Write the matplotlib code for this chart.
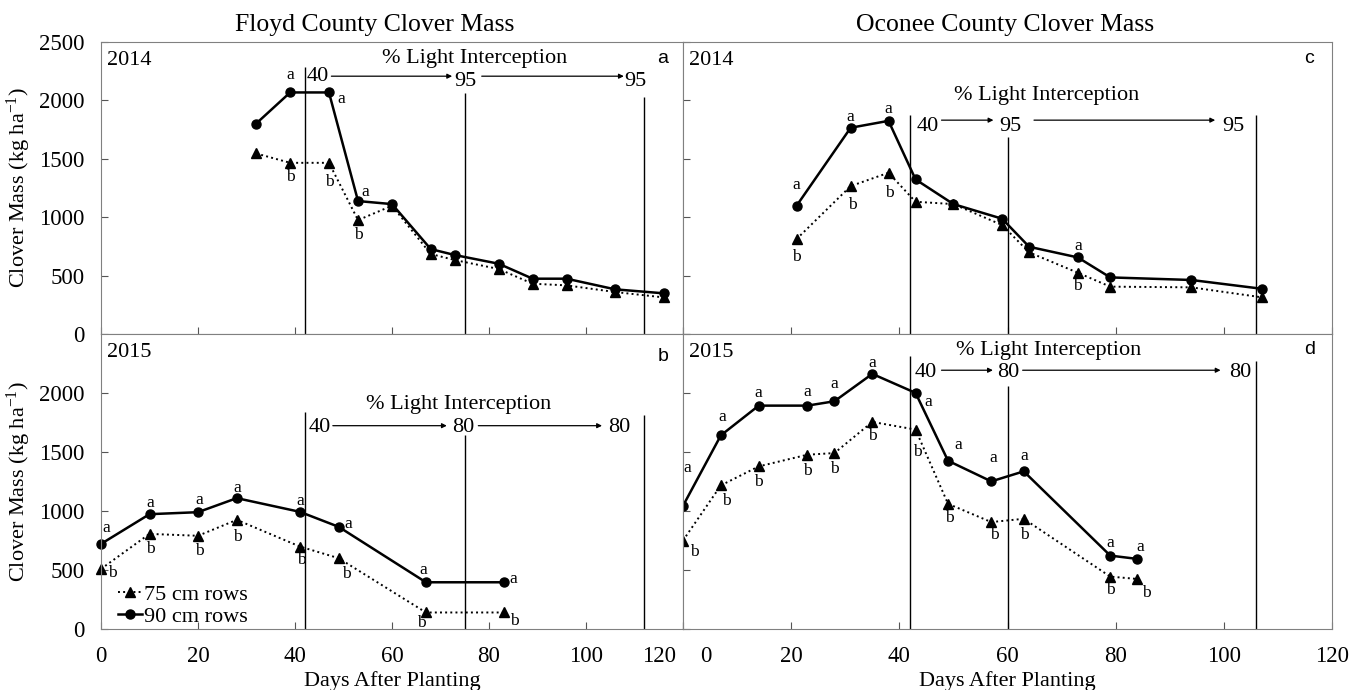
import matplotlib.pyplot as plt
from matplotlib.transforms import ScaledTranslation

# Clover mass (kg/ha) vs days after planting, 75 cm and 90 cm rows
floyd14_days = [32, 39, 47, 53, 60, 68, 73, 82, 89, 96, 106, 116]
floyd14_90 = [1800, 2066, 2066, 1137, 1111, 726, 675, 601, 473, 473, 382, 348]
floyd14_75 = [1544, 1464, 1464, 974, 1097, 684, 632, 556, 430, 416, 359, 313]
floyd14_sig90 = ['', 'a', 'a', 'a', '', '', '', '', '', '', '', '']
floyd14_sig75 = ['', 'b', 'b', 'b', '', '', '', '', '', '', '', '']

oconee14_days = [21, 31, 38, 43, 50, 59, 64, 73, 79, 94, 107]
oconee14_90 = [1097, 1764, 1823, 1322, 1111, 986, 746, 655, 484, 462, 387]
oconee14_75 = [812, 1265, 1379, 1131, 1111, 932, 698, 524, 405, 399, 314]
oconee14_sig90 = ['a', 'a', 'a', '', '', '', '', 'a', '', '', '']
oconee14_sig75 = ['b', 'b', 'b', '', '', '', '', 'b', '', '', '']

floyd15_days = [0, 10, 20, 28, 41, 49, 67, 83]
floyd15_90 = [721, 973, 990, 1109, 993, 866, 396, 396]
floyd15_75 = [509, 806, 790, 925, 699, 600, 140, 140]
floyd15_sig90 = ['a'] * 8
floyd15_sig75 = ['b'] * 8

oconee15_days = [0, 7, 14, 23, 28, 35, 43, 49, 57, 63, 79, 84]
oconee15_90 = [1044, 1641, 1893, 1893, 1930, 2162, 2001, 1426, 1251, 1336, 622, 594]
oconee15_75 = [750, 1217, 1378, 1477, 1491, 1755, 1690, 1061, 906, 934, 444, 424]
oconee15_sig90 = ['a'] * 12
oconee15_sig75 = ['b'] * 12

# light interception stages (day of line, % label)
floyd_li_days = [42, 75, 112]
oconee_li_days = [42, 60, 106]
li_2014 = ['40', '95', '95']
li_2015 = ['40', '80', '80']

labels_rows = ['75 cm rows', '90 cm rows']

plt.rcParams['font.family'] = 'Liberation Serif'
plt.rcParams['mathtext.fontset'] = 'custom'
plt.rcParams['mathtext.rm'] = 'Liberation Serif'
plt.rcParams['mathtext.default'] = 'regular'

W, H = 1366, 690
fig = plt.figure(figsize=(W / 100, H / 100), dpi=100)


def box(l, r, t, b):
    return [l / W, (H - b) / H, (r - l) / W, (b - t) / H]


ax_tl = fig.add_axes(box(101, 683, 41.7, 334))
ax_bl = fig.add_axes(box(101, 683, 334, 629))
ax_tr = fig.add_axes(box(683, 1332, 41.7, 334))
ax_br = fig.add_axes(box(683, 1332, 334, 629))


def sig_labels(ax, days, vals, sig, offs, default):
    for i, s in enumerate(sig):
        if not s:
            continue
        dx, dy = offs.get(i, default)
        ax.annotate(s, (days[i], vals[i]), xytext=(dx, dy), textcoords='offset pixels',
                    ha='center', va='center', fontsize=12.5, annotation_clip=False)


def panel(ax, days, m90, m75, sig90, sig75, off90, off75, li_days, li_txt, li, clip):
    l75, = ax.plot(days, m75, ':', color='black', lw=1.4, marker='^', ms=7, clip_on=clip)
    l90, = ax.plot(days, m90, '-', color='black', lw=1.8, marker='o', ms=6.5, clip_on=clip)
    sig_labels(ax, days, m90, sig90, off90, (0, 13))
    sig_labels(ax, days, m75, sig75, off75, (0, -15))

    ax.vlines(li_days, 0, li['tops'], color='black', lw=1)
    ax.text(li['title'][0], li['title'][1], '% Light Interception', ha='center', va='center', fontsize=16)
    for (x, y), t in zip(li['nums'], li_txt):
        ax.text(x, y, t, ha='center', va='center', fontsize=16)
    for x0, x1 in li['arrows']:
        ax.annotate('', xy=(x1, li['arrow_y']), xytext=(x0, li['arrow_y']),
                    arrowprops=dict(arrowstyle='-|>', lw=0.9, color='black',
                                    mutation_scale=7, shrinkA=0, shrinkB=0))

    ax.set_xlim(0, 120)
    ax.set_ylim(0, 2500)
    ax.set_xticks(range(0, 121, 20))
    ax.set_yticks(range(0, 2501, 500))
    ax.tick_params(direction='in', length=5, labelsize=16.5, pad=12, color='#555555')
    for sp in ax.spines.values():
        sp.set_color('#808080')
    return l75, l90


panel(ax_tl, floyd14_days, floyd14_90, floyd14_75, floyd14_sig90, floyd14_sig75,
      {1: (0, 17), 2: (12, -7), 3: (7, 9)},
      {1: (0, -14), 2: (0, -19), 3: (0, -15)},
      floyd_li_days, li_2014,
      dict(tops=[2282, 2060, 2028], title=(77, 2353),
           nums=[(44.6, 2205), (75.1, 2156), (110.2, 2156)],
           arrows=[(47.5, 72.4), (78.5, 107.8)], arrow_y=2205), False)

panel(ax_tr, oconee14_days, oconee14_90, oconee14_75, oconee14_sig90, oconee14_sig75,
      {0: (0, 21), 1: (0, 11), 2: (0, 12), 7: (0, 11)},
      {0: (0, -18), 1: (2, -19), 2: (1, -20), 7: (0, -13)},
      oconee_li_days, li_2014,
      dict(tops=[1872, 1686, 1872], title=(67.3, 2043),
           nums=[(45.2, 1778), (60.5, 1778), (101.8, 1778)],
           arrows=[(47.8, 57.4), (64.9, 98.4)], arrow_y=1829), True)

h75, h90 = panel(ax_bl, floyd15_days, floyd15_90, floyd15_75, floyd15_sig90, floyd15_sig75,
                 {0: (5, 16), 1: (1, 11), 2: (1, 12), 3: (0, 10), 4: (0, 11), 5: (10, 3), 6: (-3, 12), 7: (10, 3)},
                 {0: (11, -4), 1: (1, -15), 2: (1, -15), 3: (1, -17), 4: (1, -13), 5: (8, -16), 6: (-5, -11), 7: (11, -9)},
                 floyd_li_days, li_2015,
                 dict(tops=[1836, 1647, 1817], title=(73.8, 1901),
                      nums=[(45.1, 1709), (74.7, 1709), (106.9, 1709)],
                      arrows=[(47.8, 71.3), (77.8, 103.3)], arrow_y=1723), False)

panel(ax_br, oconee15_days, oconee15_90, oconee15_75, oconee15_sig90, oconee15_sig75,
      {0: (4, 38), 1: (1, 18), 2: (0, 13), 3: (0, 14), 4: (0, 17), 5: (0, 11), 6: (13, -9),
       7: (10, 16), 8: (2, 23), 9: (1, 15), 10: (0, 13), 11: (3, 12)},
      {0: (11, -11), 1: (5, -16), 2: (0, -16), 3: (0, -16), 4: (0, -16), 5: (0, -14), 6: (2, -22),
       7: (1, -14), 8: (3, -13), 9: (1, -16), 10: (0, -13), 11: (9, -14)},
      oconee_li_days, li_2015,
      dict(tops=[2317, 2057, 2269], title=(67.6, 2362),
           nums=[(44.9, 2171), (60.1, 2171), (103.1, 2171)],
           arrows=[(47.8, 57.3), (62.8, 99.4)], arrow_y=2193), True)

# tick labels only on outer axes
ax_tl.tick_params(labelbottom=False)
ax_tr.tick_params(labelbottom=False, labelleft=False)
ax_br.tick_params(labelleft=False)
ax_bl.set_yticks(range(0, 2001, 500))
ax_bl.set_ylim(0, 2500)

# push apart the "120" and "0" labels where the panels meet
ax_bl.get_xticklabels()[-1].set_transform(
    ax_bl.get_xticklabels()[-1].get_transform() + ScaledTranslation(-0.24, 0, fig.dpi_scale_trans))
ax_br.get_xticklabels()[0].set_transform(
    ax_br.get_xticklabels()[0].get_transform() + ScaledTranslation(0.23, 0, fig.dpi_scale_trans))

ylab = 'Clover Mass (kg ha$^{-1}$)'
ax_tl.set_ylabel(ylab, fontsize=16, labelpad=4)
ax_bl.set_ylabel(ylab, fontsize=16, labelpad=4)
ax_bl.set_xlabel('Days After Planting', fontsize=16, labelpad=3)
ax_br.set_xlabel('Days After Planting', fontsize=16, labelpad=3)

fig.text(374.6 / W, 1 - 25 / H, 'Floyd County Clover Mass', ha='center', va='center', fontsize=18.5)
fig.text(1005 / W, 1 - 25 / H, 'Oconee County Clover Mass', ha='center', va='center', fontsize=18.5)

# panel tags
for ax, yr, tag, ty in [(ax_tl, '2014', 'a', 0.944), (ax_tr, '2014', 'c', 0.944),
                        (ax_bl, '2015', 'b', 0.923), (ax_br, '2015', 'd', 0.946)]:
    ax.text(0.01, 0.937, yr, transform=ax.transAxes, ha='left', va='center', fontsize=16)
    ax.text(0.965, ty, tag, transform=ax.transAxes, ha='center', va='center',
            fontsize=14, family='Liberation Sans')

ax_bl.legend([h75, h90], labels_rows, loc='lower left', bbox_to_anchor=(0.025, 0.0),
             frameon=False, fontsize=16, handlelength=1.1, handletextpad=0.1,
             labelspacing=0.05, borderpad=0.1, borderaxespad=0)

fig.savefig('out.png', dpi=100)
